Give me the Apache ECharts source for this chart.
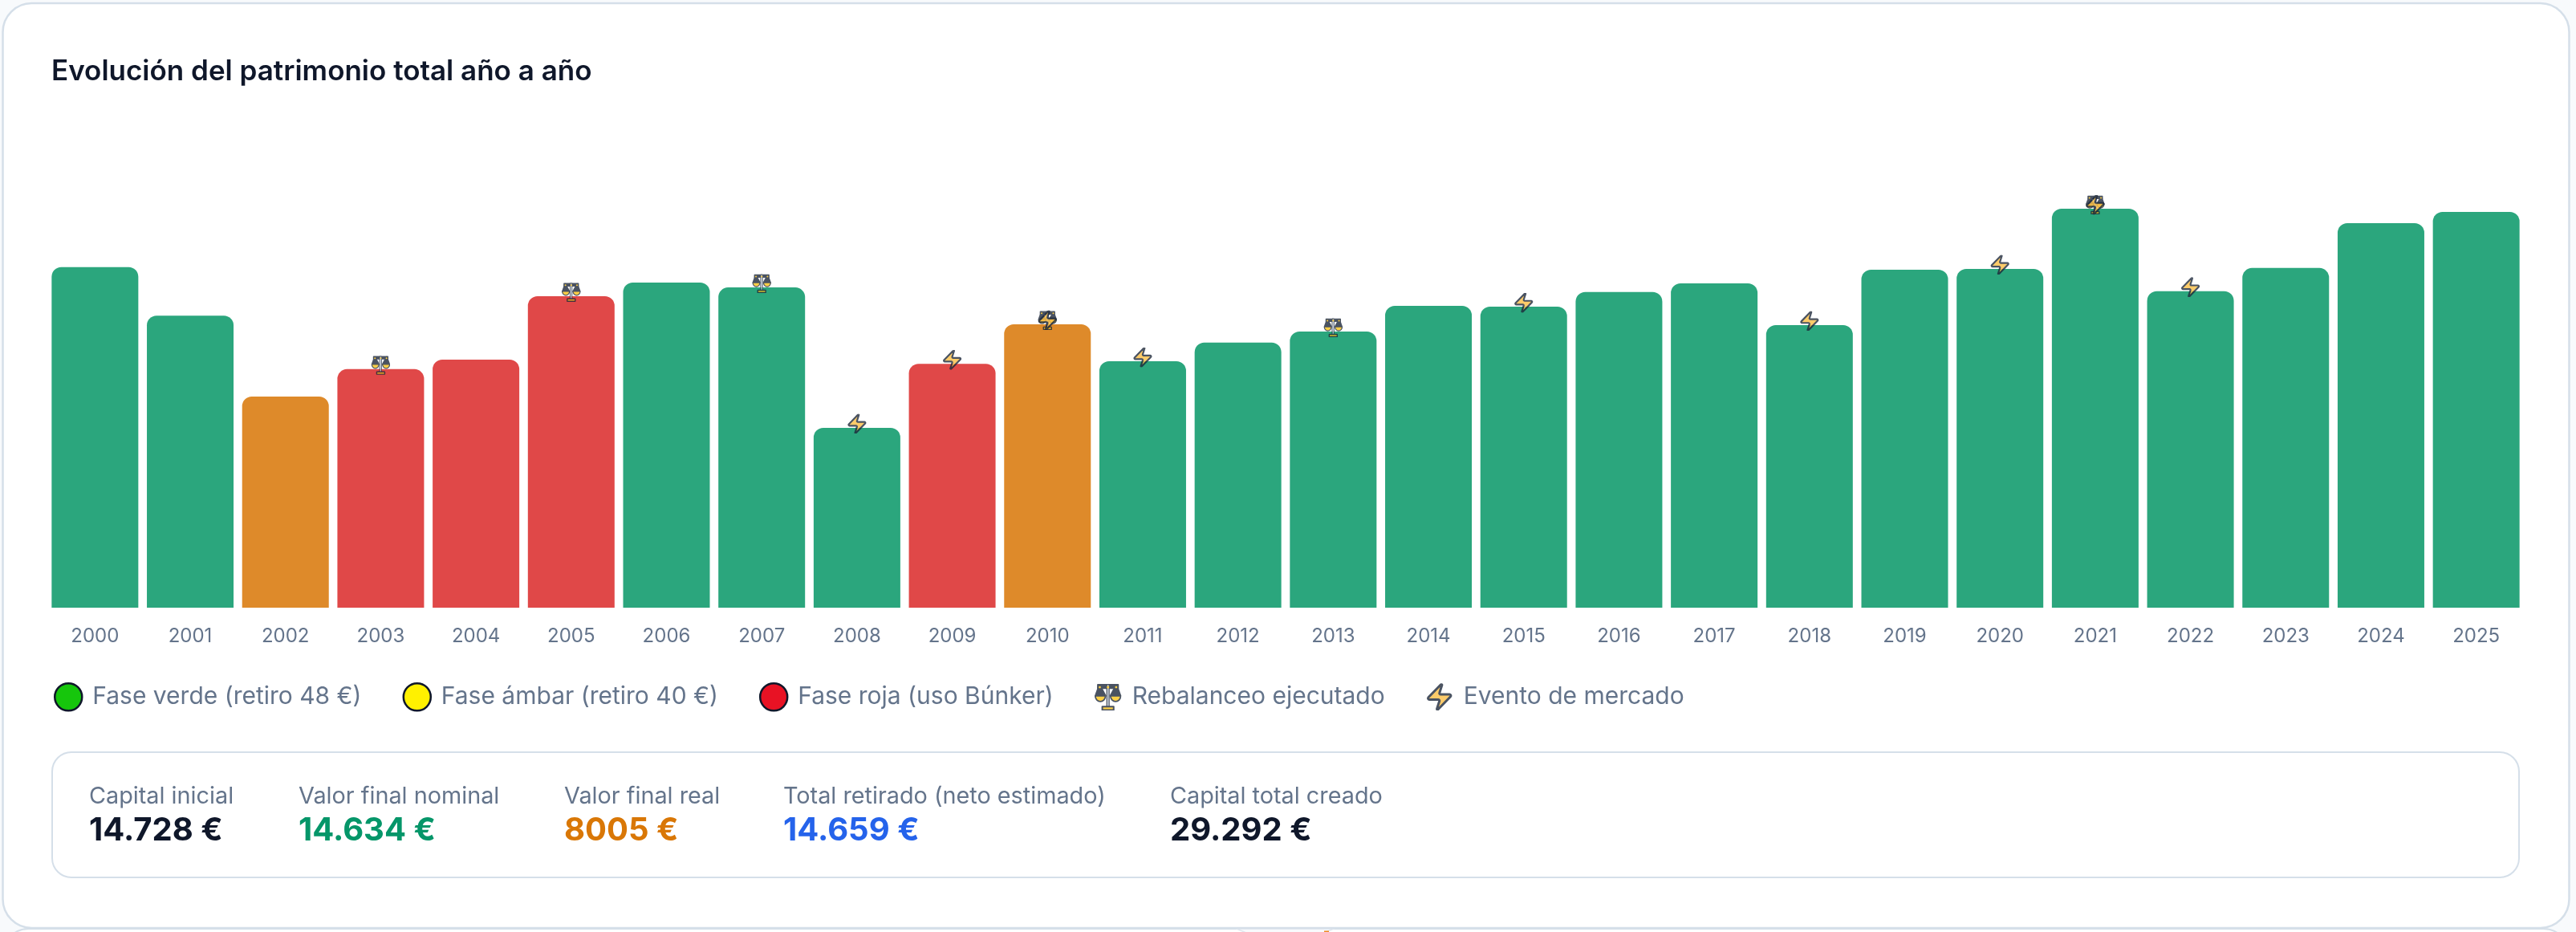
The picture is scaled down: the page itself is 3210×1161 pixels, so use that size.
<!DOCTYPE html>
<html lang="es">
<head>
<meta charset="utf-8">
<title>Evolución del patrimonio total año a año</title>
<style>
  html, body { margin: 0; padding: 0; background: #f8fafc; }
  #chart { width: 3210px; height: 1161px; }
</style>
<script src="https://cdn.jsdelivr.net/npm/echarts@6/dist/echarts.min.js"></script>
</head>
<body>
<div id="chart"></div>
<script>
// Años y patrimonio total al cierre de cada año (€)
const years = ['2000','2001','2002','2003','2004','2005','2006','2007','2008','2009','2010','2011','2012','2013','2014','2015','2016','2017','2018','2019','2020','2021','2022','2023','2024','2025'];
const totals = [12590,10800,7810,8820,9170,11520,12020,11840,6650,9020,10480,9110,9800,10210,11160,11130,11670,11990,10450,12500,12530,14750,11700,12560,14220,14634];
// Fase de cada año: v = verde, a = ámbar, r = roja
const phases = ['v','v','a','r','r','r','v','v','v','r','a','v','v','v','v','v','v','v','v','v','v','v','v','v','v','v'];
const rebalanceYears = ['2003','2005','2007','2010','2013','2021'];
const marketEventYears = ['2008','2009','2010','2011','2015','2018','2020','2021','2022'];

const seriesNames = ['Fase verde (retiro 48 €)','Fase ámbar (retiro 40 €)','Fase roja (uso Búnker)','Rebalanceo ejecutado','Evento de mercado'];

const statLabels = ['Capital inicial','Valor final nominal','Valor final real','Total retirado (neto estimado)','Capital total creado'];
const statValues = ['14.728 €','14.634 €','8005 €','14.659 €','29.292 €'];
const statColors = ['#0f172a','#059669','#d97706','#2563eb','#0f172a'];
const statX = [111,372,703,976,1458];

const FONT = 'Inter, sans-serif';
const INK = '#1e293b';
const AMBER = '#fcbf45';

function svgIcon(viewBox, body) {
  const svg = `<svg xmlns="http://www.w3.org/2000/svg" width="96" height="96" viewBox="${viewBox}">${body}</svg>`;
  return 'image://data:image/svg+xml;charset=utf-8,' + encodeURIComponent(svg);
}
// Balanza: cuerpo oscuro, platillos y peana amarillos
const scaleIcon = svgIcon('0 0 24 24', `
  <g stroke="${INK}" stroke-linejoin="round" stroke-linecap="round">
    <path d="M4.6 2 L1.4 11 H9.4 Z M19.4 2 L14.6 11 H22.6 Z" fill="${INK}" stroke-width="2.2"/>
    <path d="M3 1.2 H21 V4.4 H3 Z" fill="${INK}" stroke-width="1.2"/>
    <path d="M11 1 H13 V21 H11 Z" fill="#cbd5e1" stroke-width="0.9"/>
    <path d="M0.8 11 H9.8 A4.5 5 0 0 1 0.8 11 Z M14.2 11 H23.2 A4.5 5 0 0 1 14.2 11 Z" fill="#fcc419" stroke-width="1.2"/>
    <path d="M7 20.4 H17 V23.4 H7 Z" fill="#fcc419" stroke-width="1.4"/>
  </g>
  <circle cx="12" cy="3.4" r="1.1" fill="#fcc419"/>
  <circle cx="4.8" cy="3.4" r="1" fill="#fcc419"/>
  <circle cx="19.2" cy="3.4" r="1" fill="#fcc419"/>`);
const boltIcon = svgIcon('2.4 1.2 19.2 21.6',
  `<path d="M4 14a1 1 0 0 1-.78-1.63l9.9-10.2a.5.5 0 0 1 .86.46l-1.92 6.02A1 1 0 0 0 13 10h7a1 1 0 0 1 .78 1.63l-9.9 10.2a.5.5 0 0 1-.86-.46l1.92-6.02A1 1 0 0 0 11 14z" fill="${AMBER}" stroke="${INK}" stroke-width="1.9" stroke-linejoin="round"/>`);

function phaseSeries(name, code, color) {
  return {
    name, type: 'bar', stack: 'total', barWidth: 108,
    itemStyle: { color, borderRadius: [12, 12, 0, 0] },
    data: totals.map((v, i) => phases[i] === code ? v : null),
    silent: true
  };
}
function markerSeries(name, marked, icon, size, z) {
  return {
    name, type: 'scatter', symbol: icon, symbolSize: size, symbolOffset: [0, -5], z,
    data: marked.map(y => [y, totals[years.indexOf(y)]]),
    silent: true
  };
}

const legendDot = (name, color) => ({
  name, icon: 'circle',
  itemStyle: { color, borderColor: '#0f172a', borderWidth: 2.5 }
});

// Tarjeta exterior, recuadro de resumen y sus textos
const panels = [
  { type: 'rect', z: -5, shape: { x: 3.5, y: 1157, width: 3198, height: 80, r: 32 }, style: { fill: '#ffffff', stroke: '#d5dfe9', lineWidth: 2 } },
  { type: 'polygon', z: -5, shape: { points: [[1541,1157],[1662,1157],[1650,1162],[1553,1162]] }, style: { fill: '#f8fafc', stroke: '#dfe6ee', lineWidth: 1.5 } },
  { type: 'rect', z: -5, shape: { x: 1650, y: 1159.5, width: 6, height: 2 }, style: { fill: '#f08a24' } },
  { type: 'rect', z: -4, shape: { x: 3.5, y: 4, width: 3198, height: 1152, r: 36 }, style: { fill: '#ffffff', stroke: '#d5dfe9', lineWidth: 2.5 } },
  { type: 'rect', z: -3, shape: { x: 65, y: 937, width: 3074, height: 156, r: 24 }, style: { fill: '#ffffff', stroke: '#d5dfe9', lineWidth: 2 } }
];
const statTexts = statLabels.flatMap((label, i) => [
  { type: 'text', x: statX[i], y: 992, style: { text: label, font: `400 28.8px ${FONT}`, fill: '#64748b', textVerticalAlign: 'middle' } },
  { type: 'text', x: statX[i], y: 1035, style: { text: statValues[i], font: `700 40px ${FONT}`, fill: statColors[i], textVerticalAlign: 'middle' } }
]);

const chart = echarts.init(document.getElementById('chart'), null, { renderer: 'canvas' });
chart.setOption({
  animation: false,
  backgroundColor: '#f8fafc',
  title: {
    text: 'Evolución del patrimonio total año a año',
    left: 64, top: 72,
    padding: 0,
    textStyle: { fontFamily: FONT, fontSize: 35, fontWeight: 600, color: '#0f172a' }
  },
  grid: { left: 59, width: 3086, top: 157, height: 600, containLabel: false },
  xAxis: {
    type: 'category', data: years,
    axisLine: { show: false }, axisTick: { show: false },
    axisLabel: { interval: 0, margin: 24, fontFamily: FONT, fontSize: 24, color: '#64748b' }
  },
  yAxis: { type: 'value', min: 0, max: 17810, show: false },
  legend: {
    left: 67, top: 850, padding: 0,
    itemWidth: 34, itemHeight: 34, itemGap: 51,
    selectedMode: false,
    textStyle: { fontFamily: FONT, fontSize: 30, color: '#64748b', padding: [0, 0, 0, 8] },
    data: [
      legendDot(seriesNames[0], '#16c60c'),
      legendDot(seriesNames[1], '#fff100'),
      legendDot(seriesNames[2], '#e81224'),
      { name: seriesNames[3], icon: scaleIcon },
      { name: seriesNames[4], icon: boltIcon }
    ]
  },
  series: [
    phaseSeries(seriesNames[0], 'v', '#2ba67d'),
    phaseSeries(seriesNames[1], 'a', '#de8a2a'),
    phaseSeries(seriesNames[2], 'r', '#e04848'),
    markerSeries(seriesNames[3], rebalanceYears, scaleIcon, 24, 5),
    markerSeries(seriesNames[4], marketEventYears, boltIcon, 25, 6)
  ],
  graphic: { elements: panels.concat(statTexts) }
});
</script>
</body>
</html>
